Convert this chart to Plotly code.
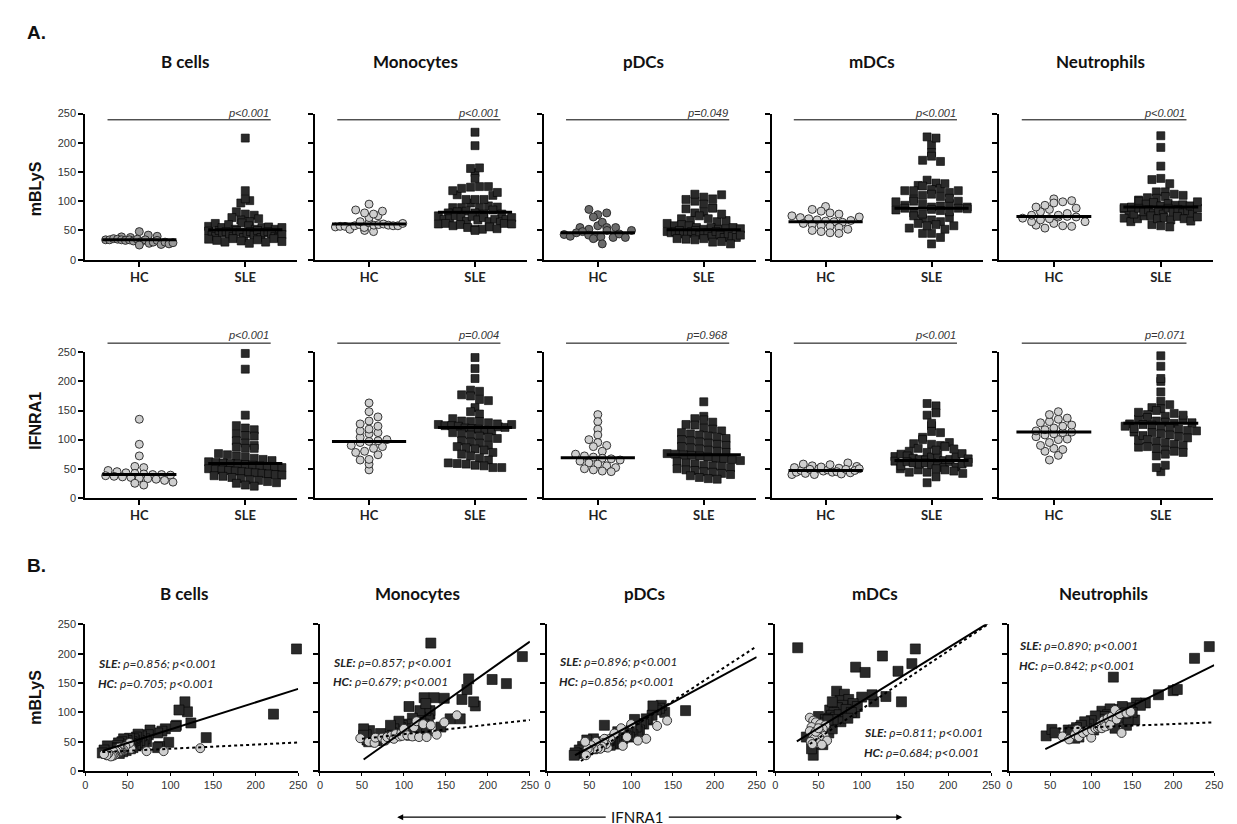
import numpy as np
import plotly.graph_objects as go

FIG_W, FIG_H = 1237, 824

cell_types = ["B cells", "Monocytes", "pDCs", "mDCs", "Neutrophils"]
groups = ["HC", "SLE"]

# ---------------- paired data (IFNRA1, mBLyS) per cell type ----------------
bcell_hc_ifnra1 = [135, 92, 72, 54, 52, 47, 45, 43, 42, 41, 40, 40, 39, 38, 37, 36, 35, 34, 33, 32, 30, 27, 25, 22]
bcell_hc_mblys = [39, 34, 34, 38, 48, 42, 36, 35, 34, 33, 40, 34, 32, 35, 31, 34, 28, 30, 33, 26, 25, 30, 27, 29]
bcell_sle_ifnra1 = [248, 221, 142, 124, 120, 117, 110, 107, 106, 98, 94, 90, 87, 85, 85, 76, 74, 72, 70, 68,
                    66, 64, 62, 61, 60, 59, 58, 57, 56, 55, 54, 53, 52, 50, 49, 48, 47, 46, 45, 44,
                    43, 42, 41, 40, 39, 38, 37, 35, 33, 31, 30, 28, 26, 25, 22, 20]
bcell_sle_mblys = [208, 97, 57, 82, 101, 118, 104, 78, 76, 49, 72, 68, 42, 65, 40, 70, 62, 50, 55, 45,
                   60, 52, 63, 48, 58, 44, 52, 55, 40, 50, 47, 38, 56, 45, 52, 35, 48, 42, 55, 33,
                   50, 38, 46, 30, 48, 44, 36, 40, 32, 38, 28, 34, 43, 30, 36, 31]

mono_hc_ifnra1 = [48, 58, 65, 66, 74, 78, 80, 85, 88, 90, 95, 97, 98, 100, 104, 110, 112, 115, 118, 123, 127, 132, 139, 148, 163]
mono_hc_mblys = [56, 50, 48, 57, 57, 52, 58, 60, 55, 63, 59, 65, 60, 72, 61, 59, 75, 85, 58, 80, 58, 78, 62, 83, 95]
mono_sle_ifnra1 = [241, 222, 205, 185, 183, 177, 175, 169, 167, 155, 148, 144, 136, 132, 131, 131, 129, 126, 124, 124,
                   123, 120, 119, 118, 116, 115, 112, 110, 108, 106, 104, 102, 122, 98, 96, 94, 121, 90, 88, 86,
                   84, 82, 127, 78, 75, 72, 68, 65, 60, 59, 58, 56, 55, 52, 52, 126]
mono_sle_mblys = [195, 149, 156, 111, 118, 157, 139, 122, 89, 89, 124, 75, 125, 218, 97, 103, 89, 103, 125, 80,
                  69, 92, 103, 82, 83, 70, 75, 90, 61, 110, 80, 72, 66, 78, 74, 85, 68, 62, 72, 65,
                  78, 58, 69, 60, 55, 64, 52, 52, 56, 69, 50, 53, 62, 72, 61, 115]

pdc_hc_ifnra1 = [143, 131, 118, 108, 100, 95, 90, 88, 80, 75, 72, 70, 68, 67, 65, 63, 60, 58, 55, 52, 50, 48, 46, 45]
pdc_hc_mblys = [86, 77, 55, 52, 80, 58, 43, 73, 64, 55, 40, 46, 55, 48, 42, 38, 39, 50, 38, 44, 36, 38, 27, 50]
pdc_sle_ifnra1 = [165, 140, 136, 134, 130, 126, 125, 120, 118, 115, 112, 110, 108, 106, 104, 102, 100, 98, 96, 94,
                  92, 90, 88, 86, 84, 82, 80, 78, 76, 75, 74, 73, 72, 70, 68, 67, 66, 64, 62, 60,
                  58, 56, 55, 54, 52, 50, 48, 47, 45, 44, 42, 40, 38, 35, 33, 32]
pdc_sle_mblys = [103, 100, 112, 107, 104, 111, 95, 87, 89, 80, 81, 70, 67, 75, 88, 62, 70, 58, 65, 60,
                 58, 55, 48, 46, 67, 52, 55, 48, 50, 44, 52, 53, 45, 48, 78, 50, 42, 45, 46, 40,
                 48, 42, 55, 38, 44, 40, 36, 53, 38, 35, 42, 34, 36, 30, 31, 27]

mdc_hc_ifnra1 = [40, 44, 47, 52, 58, 42, 55, 49, 40, 50, 46, 53, 48, 57, 44, 51, 45, 60, 41, 49, 43, 54, 47, 50]
mdc_hc_mblys = [91, 86, 83, 80, 78, 75, 72, 70, 68, 66, 65, 64, 62, 60, 58, 57, 55, 52, 50, 48, 46, 45, 67, 73]
mdc_sle_ifnra1 = [26, 124, 162, 158, 142, 93, 104, 114, 128, 146, 71, 80, 100, 92, 63, 50, 44, 55, 48, 44,
                  75, 85, 90, 95, 78, 72, 68, 66, 65, 62, 60, 58, 70, 74, 82, 88, 64, 60, 57, 55,
                  52, 50, 48, 62, 66, 70, 76, 84, 53, 46, 58, 67, 42, 61, 36, 112]
mdc_sle_mblys = [210, 196, 208, 183, 170, 177, 168, 118, 127, 118, 136, 131, 126, 99, 104, 93, 45, 45, 54, 27,
                 120, 122, 115, 110, 112, 108, 100, 118, 95, 90, 85, 88, 92, 96, 105, 100, 80, 75, 70, 78,
                 68, 62, 58, 65, 72, 86, 84, 90, 60, 52, 82, 88, 38, 87, 58, 130]

neut_hc_ifnra1 = [65, 73, 80, 85, 83, 90, 95, 100, 101, 105, 108, 110, 112, 113, 115, 117, 120, 123, 125, 129, 131, 135, 137, 143, 148]
neut_hc_mblys = [59, 54, 62, 58, 71, 65, 68, 57, 70, 73, 74, 76, 82, 73, 86, 76, 90, 79, 93, 104, 88, 97, 65, 99, 101]
neut_sle_ifnra1 = [244, 226, 127, 200, 205, 182, 166, 155, 113, 123, 135, 147, 153, 143, 45, 52, 56, 72, 87, 99,
                   107, 119, 160, 150, 140, 138, 132, 130, 128, 126, 125, 122, 120, 118, 116, 115, 112, 110, 108, 105,
                   103, 100, 97, 95, 92, 90, 88, 85, 82, 80, 78, 75, 134, 145, 142, 129]
neut_sle_mblys = [212, 192, 160, 137, 139, 130, 116, 116, 102, 106, 105, 108, 87, 78, 60, 71, 65, 70, 75, 78,
                  89, 90, 112, 100, 95, 110, 98, 88, 82, 92, 85, 80, 96, 84, 93, 78, 88, 82, 75, 94,
                  70, 86, 80, 72, 84, 68, 78, 58, 74, 56, 70, 66, 92, 88, 99, 73]

hc_ifnra1 = [bcell_hc_ifnra1, mono_hc_ifnra1, pdc_hc_ifnra1, mdc_hc_ifnra1, neut_hc_ifnra1]
hc_mblys = [bcell_hc_mblys, mono_hc_mblys, pdc_hc_mblys, mdc_hc_mblys, neut_hc_mblys]
sle_ifnra1 = [bcell_sle_ifnra1, mono_sle_ifnra1, pdc_sle_ifnra1, mdc_sle_ifnra1, neut_sle_ifnra1]
sle_mblys = [bcell_sle_mblys, mono_sle_mblys, pdc_sle_mblys, mdc_sle_mblys, neut_sle_mblys]

# medians drawn as horizontal bars
median_mblys_hc = [34, 61, 46, 65, 74]
median_mblys_sle = [51, 81, 51, 88, 90]
median_ifnra1_hc = [40, 97, 69, 47, 113]
median_ifnra1_sle = [59, 121, 74, 64, 128]

pvals_mblys = ["p<0.001", "p<0.001", "p=0.049", "p<0.001", "p<0.001"]
pvals_ifnra1 = ["p<0.001", "p=0.004", "p=0.968", "p<0.001", "p=0.071"]

rho_sle = ["0.856", "0.857", "0.896", "0.811", "0.890"]
rho_hc = ["0.705", "0.679", "0.856", "0.684", "0.842"]

# regression lines (slope, intercept, starting x)
fit_sle_slope = [0.46, 1.015, 0.77, 0.91, 0.694]
fit_sle_intercept = [25, -33, 1.6, 28, 7]
fit_sle_xstart = [20, 52, 33, 25, 44]
fit_hc_slope = [0.071, 0.16, 0.93, 0.99, 0.056]
fit_hc_intercept = [31, 47, -20, 6.5, 69]
fit_hc_xstart = [20, 50, 40, 40, 60]

# ---------------- layout geometry (pixels) ----------------
row_y_px = [(101, 249.3), (343.3, 491), (619.3, 768.3)]
dot_x_px = [(75, 289), (307, 521), (538, 752), (768, 982), (998, 1214)]
sc_x_px = [(75, 290), (312, 524), (541.7, 753), (771.7, 990), (1008, 1215)]
corr_pos = [(0.05, 0.73, 0.595), (0.052, 0.74, 0.61), (0.047, 0.745, 0.61), (0.40, 0.26, 0.125), (0.04, 0.857, 0.72)]

TICK_FONT = "Liberation Sans, Arial, sans-serif"
LABEL_FONT = "Lato, Open Sans, sans-serif"


def pxx(p):
    return p / FIG_W


def pxy(p):
    return 1 - p / FIG_H


def swarm_offsets(values, unit_px_y, unit_px_x, bin_px=7.5, spacing_px=9.0, max_half_px=37):
    """Scatter-dot-plot layout: values binned in rows, each row spread horizontally."""
    vals = np.asarray(values, float)
    bins = np.floor(vals * unit_px_y / bin_px).astype(int)
    offs = np.zeros(len(vals))
    for b in np.unique(bins):
        idx = np.where(bins == b)[0]
        n = len(idx)
        if n == 1:
            continue
        sp = min(spacing_px, 2 * max_half_px / (n - 1))
        pos = (np.arange(n) - (n - 1) / 2.0) * sp
        offs[idx] = pos / unit_px_x
    return offs


fig = go.Figure()
layout_axes = {}
shapes = []
annotations = []


def axname(k, letter):
    return letter if k == 1 else f"{letter}{k}"


hc_fill_row = [["#9a9a9a", "#cfcfcf", "#6b6b6b", "#cfcfcf", "#cfcfcf"],
               ["#cfcfcf"] * 5]

for r in range(3):
    for c in range(5):
        k = r * 5 + c + 1
        xa, ya = axname(k, "x"), axname(k, "y")
        xkey = "xaxis" if k == 1 else f"xaxis{k}"
        ykey = "yaxis" if k == 1 else f"yaxis{k}"
        ytop, ybot = row_y_px[r]
        ydom = [pxy(ybot), pxy(ytop)]
        yaxis = dict(domain=ydom, anchor=xa, range=[0, 250], tickvals=[0, 50, 100, 150, 200, 250],
                     showticklabels=(c == 0), ticks="outside", ticklen=5, tickwidth=1.5, tickcolor="black",
                     showline=True, linewidth=2, linecolor="black", showgrid=False, zeroline=False,
                     tickfont=dict(family=TICK_FONT, size=11, color="#333"), fixedrange=True)
        if r < 2:
            x0, x1 = dot_x_px[c]
            xaxis = dict(domain=[pxx(x0), pxx(x1)], anchor=ya, range=[-0.51, 1.49], tickvals=[0, 1],
                         ticktext=groups, ticks="outside", ticklen=5, tickwidth=1.5, tickcolor="black",
                         showline=True, linewidth=2, linecolor="black", showgrid=False, zeroline=False,
                         tickfont=dict(family=LABEL_FONT, size=13, color="#222", weight="bold"), fixedrange=True)
            unit_px_x = (x1 - x0) / 2.0
            unit_px_y = (ybot - ytop) / 250.0
            hc_vals = hc_mblys[c] if r == 0 else hc_ifnra1[c]
            sle_vals = sle_mblys[c] if r == 0 else sle_ifnra1[c]
            med_hc = median_mblys_hc[c] if r == 0 else median_ifnra1_hc[c]
            med_sle = median_mblys_sle[c] if r == 0 else median_ifnra1_sle[c]
            hc_off = swarm_offsets(hc_vals, unit_px_y, unit_px_x, max_half_px=34)
            sle_off = swarm_offsets(sle_vals, unit_px_y, unit_px_x, max_half_px=37)
            fig.add_trace(go.Scatter(x=0 + hc_off, y=hc_vals, mode="markers", xaxis=xa, yaxis=ya,
                                     marker=dict(symbol="circle", size=8, color=hc_fill_row[r][c],
                                                 line=dict(color="#222", width=0.9)),
                                     cliponaxis=False, hoverinfo="skip"))
            fig.add_trace(go.Scatter(x=1 + sle_off, y=sle_vals, mode="markers", xaxis=xa, yaxis=ya,
                                     marker=dict(symbol="square", size=8, color="#2a2a2a",
                                                 line=dict(color="#000", width=0.6)),
                                     cliponaxis=False, hoverinfo="skip"))
            for g, m in ((0, med_hc), (1, med_sle)):
                fig.add_trace(go.Scatter(x=[g - 0.35, g + 0.35], y=[m, m], mode="lines", xaxis=xa, yaxis=ya,
                                         line=dict(color="black", width=3), hoverinfo="skip"))
            # significance bar and p value
            ly = 0.957 if r == 0 else 1.063
            ty = 1.007 if r == 0 else 1.117
            shapes.append(dict(type="line", xref=f"{xa} domain", yref=f"{ya} domain",
                               x0=0.105, x1=0.875, y0=ly, y1=ly, line=dict(color="black", width=1)))
            ptxt = (pvals_mblys if r == 0 else pvals_ifnra1)[c].replace("<", "&lt;")
            annotations.append(dict(text=f"<i>{ptxt}</i>", xref=f"{xa} domain", yref=f"{ya} domain",
                                    x=0.878, y=ty, xanchor="right", yanchor="middle", showarrow=False,
                                    font=dict(family=TICK_FONT, size=11, color="#333")))
            if r == 0:
                annotations.append(dict(text=f"<b>{cell_types[c]}</b>", xref="paper", yref="paper",
                                        x=pxx((x0 + x1) / 2 - 6), y=pxy(48), xanchor="center", yanchor="middle",
                                        showarrow=False, font=dict(family=LABEL_FONT, size=17, color="#111")))
        else:
            x0, x1 = sc_x_px[c]
            xaxis = dict(domain=[pxx(x0), pxx(x1)], anchor=ya, range=[0, 250],
                         tickvals=[0, 50, 100, 150, 200, 250], ticks="outside", ticklen=3, tickwidth=1,
                         tickcolor="black", showline=True, linewidth=2, linecolor="black", showgrid=False,
                         zeroline=False, tickfont=dict(family=TICK_FONT, size=11, color="#333"), fixedrange=True)
            fig.add_trace(go.Scatter(x=sle_ifnra1[c], y=sle_mblys[c], mode="markers", xaxis=xa, yaxis=ya,
                                     marker=dict(symbol="square", size=10, color="#2a2a2a",
                                                 line=dict(color="#000", width=0.6)),
                                     cliponaxis=False, hoverinfo="skip"))
            fig.add_trace(go.Scatter(x=hc_ifnra1[c], y=hc_mblys[c], mode="markers", xaxis=xa, yaxis=ya,
                                     marker=dict(symbol="circle", size=9, color="#cfcfcf",
                                                 line=dict(color="#222", width=0.9)),
                                     cliponaxis=False, hoverinfo="skip"))
            xs = np.array([fit_sle_xstart[c], 250.0])
            fig.add_trace(go.Scatter(x=xs, y=fit_sle_slope[c] * xs + fit_sle_intercept[c], mode="lines",
                                     xaxis=xa, yaxis=ya, line=dict(color="black", width=2), hoverinfo="skip"))
            xh = np.array([fit_hc_xstart[c], 250.0])
            fig.add_trace(go.Scatter(x=xh, y=fit_hc_slope[c] * xh + fit_hc_intercept[c], mode="lines",
                                     xaxis=xa, yaxis=ya, line=dict(color="black", width=2, dash="dot"),
                                     hoverinfo="skip"))
            cx, sy, hy = corr_pos[c]
            annotations.append(dict(text=f"<b><i>SLE:</i></b><i> ρ={rho_sle[c]}; p&lt;0.001</i>",
                                    xref=f"{xa} domain", yref=f"{ya} domain", x=cx, y=sy,
                                    xanchor="left", yanchor="middle", showarrow=False,
                                    font=dict(family=LABEL_FONT, size=12, color="#222")))
            annotations.append(dict(text=f"<b><i>HC:</i></b><i> ρ={rho_hc[c]}; p&lt;0.001</i>",
                                    xref=f"{xa} domain", yref=f"{ya} domain", x=cx, y=hy,
                                    xanchor="left", yanchor="middle", showarrow=False,
                                    font=dict(family=LABEL_FONT, size=12, color="#222")))
            annotations.append(dict(text=f"<b>{cell_types[c]}</b>", xref="paper", yref="paper",
                                    x=pxx((x0 + x1) / 2 - 8), y=pxy(588), xanchor="center", yanchor="middle",
                                    showarrow=False, font=dict(family=LABEL_FONT, size=17, color="#111")))
        layout_axes[xkey] = xaxis
        layout_axes[ykey] = yaxis

# panel letters and axis titles
annotations.append(dict(text="<b>A.</b>", xref="paper", yref="paper", x=pxx(14), y=pxy(19),
                        xanchor="left", yanchor="middle", showarrow=False,
                        font=dict(family=TICK_FONT, size=19, color="#111")))
annotations.append(dict(text="<b>B.</b>", xref="paper", yref="paper", x=pxx(14), y=pxy(560),
                        xanchor="left", yanchor="middle", showarrow=False,
                        font=dict(family=TICK_FONT, size=19, color="#111")))
for label, ypx in (("mBLyS", 177), ("IFNRA1", 413), ("mBLyS", 693)):
    annotations.append(dict(text=f"<b>{label}</b>", xref="paper", yref="paper", x=pxx(25), y=pxy(ypx),
                            xanchor="center", yanchor="middle", textangle=-90, showarrow=False,
                            font=dict(family=TICK_FONT, size=16, color="#111")))

annotations.append(dict(text="IFNRA1", xref="paper", yref="paper", x=pxx(632), y=pxy(815),
                        xanchor="center", yanchor="middle", showarrow=False,
                        font=dict(family=LABEL_FONT, size=15, color="#111")))
annotations.append(dict(text="", xref="paper", yref="paper", x=pxx(390), y=pxy(815), ax=210, ay=0,
                        showarrow=True, arrowhead=2, arrowsize=1, arrowwidth=1.2, arrowcolor="black"))
annotations.append(dict(text="", xref="paper", yref="paper", x=pxx(900), y=pxy(815), ax=-235, ay=0,
                        showarrow=True, arrowhead=2, arrowsize=1, arrowwidth=1.2, arrowcolor="black"))

fig.update_layout(width=FIG_W, height=FIG_H, margin=dict(l=0, r=0, t=0, b=0),
                  paper_bgcolor="white", plot_bgcolor="white", showlegend=False,
                  shapes=shapes, annotations=annotations, **layout_axes)

fig.write_html("out.html")
